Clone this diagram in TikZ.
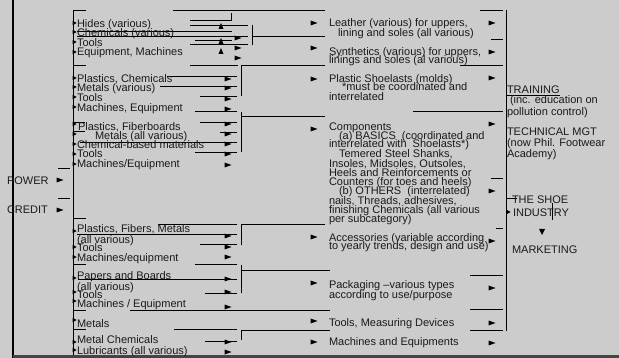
\documentclass[tikz,border=0pt]{standalone}
\usepackage{fontspec}
\setmainfont{Liberation Sans}
\definecolor{bg}{HTML}{CCCCCC}
\definecolor{ink}{HTML}{1A1A1A}
\definecolor{botline}{HTML}{444444}
\tikzset{
  ra/.pic={\fill[black] (-3.5,-2.5) -- (3.5,0) -- (-3.5,2.5) -- cycle;},
  rs/.pic={\fill[black] (-2,-2.2) -- (2.2,0) -- (-2,2.2) -- cycle;},
  ua/.pic={\fill[black] (-2.5,3) -- (0,-3) -- (2.5,3) -- cycle;},
  da/.pic={\fill[black] (-3,-3) -- (0,3) -- (3,-3) -- cycle;},
}
\begin{document}
\begin{tikzpicture}[x=1pt,y=-1pt,
  txt/.style={anchor=base west, inner sep=0pt, outer sep=0pt, yshift=-4pt,
              font=\fontsize{11}{11}\selectfont, text=ink},
  ln/.style={draw=black, line width=0.8pt}]
\fill[bg] (0,0) rectangle (619,358);
\useasboundingbox (0,0) rectangle (619,358);

% borders
\draw[line width=2.5pt, black] (13,0) -- (13,358);
\draw[line width=3pt, botline] (13,356) -- (619,356);

% left trunk and bracket tops
\draw[ln] (86,10) -- (73,10) -- (73,355);
\foreach \yy in {65,218,264,310,329} \draw[ln] (73,\yy) -- (86,\yy);
\draw[ln] (73,122) -- (85,122);
\draw[ln] (73,131) -- (85,131);

% group 1 lines
\draw[ln] (173,10) -- (325,10);
\draw[ln] (190,20) -- (231,20) -- (231,13);
\draw[ln] (190,25) -- (248,25);
\draw[ln] (77,31) -- (232,31);
\draw[ln] (77,36) -- (248,36);
\draw[ln] (252,25) -- (252,45);
\draw[ln] (252,36) -- (325,36);
\draw[ln] (195,40) -- (232,40);
\draw[ln] (190,44) -- (248,44);
\draw[ln] (190,65) -- (238,65);
\draw[ln] (241,96) -- (241,65) -- (325,65);
\foreach \yy in {26,41,51} \pic at (221,\yy) {ua};
\foreach \yy in {38,48,58} \pic at (238,\yy) {ra};

% group 2 lines
\draw[ln] (167,76) -- (237,76);
\draw[ln] (160,86) -- (237,86);
\draw[ln] (200,96) -- (237,96);
\draw[ln] (195,111) -- (237,111);
\foreach \yy in {79,88,99,109} \pic at (228,\yy) {ra};

% group 3 lines
\draw[ln] (241,152) -- (241,112);
\draw[ln] (241,116) -- (325,116);
\draw[ln] (200,122) -- (237,122);
\draw[ln] (220,132) -- (237,132);
\draw[ln] (80,142) -- (237,142);
\draw[ln] (195,152) -- (237,152);
\foreach \yy in {124,134,144,154,165} \pic at (228,\yy) {ra};

% power / credit
\draw[ln] (58,168) -- (70,168);
\draw[ln] (58,198) -- (70,198);
\pic at (60,180) {ra};
\pic at (60,210) {ra};

% group 4 lines
\draw[ln] (158,224) -- (237,224);
\draw[ln] (241,245) -- (241,224) -- (325,224);
\draw[ln] (77,234) -- (237,234);
\draw[ln] (200,244) -- (237,244);
\foreach \yy in {236,247,257} \pic at (228,\yy) {ra};

% group 5 lines
\draw[ln] (195,264) -- (237,264);
\draw[ln] (241,293) -- (241,265);
\draw[ln] (241,270) -- (330,270);
\draw[ln] (78,279) -- (237,279);
\draw[ln] (205,293) -- (237,293);
\draw[ln] (130,310) -- (330,310);
\foreach \yy in {279,292,307} \pic at (228,\yy) {ra};

% groups 6/7
\draw[ln] (174,329) -- (237,329);
\draw[ln] (241,340) -- (241,330) -- (330,330);
\draw[ln] (205,341) -- (237,341);
\foreach \yy in {342,352} \pic at (228,\yy) {ra};

% left small arrows
\foreach \yy in {23,32,42,52,78,87,97,107,124,134,144,154,164,231,247,257,278,292,301,320,342,350}
  \pic at (74.5,\yy) {rs};

% middle column arrows
\foreach \yy in {23,48,79,129,237,283,321,342} \pic at (314,\yy) {ra};
\foreach \yy in {23,52,78,124,191,241,288,323,343} \pic at (492,\yy) {ra};

% right stubs and vertical
\draw[ln] (480,10) -- (503,10);
\draw[ln] (491,39) -- (503,39);
\draw[ln] (460,65) -- (503,65);
\draw[ln] (413,111) -- (503,111);
\draw[ln] (491,178) -- (503,178);
\draw[ln] (496,228) -- (503,228);
\draw[ln] (470,275) -- (503,275);
\draw[ln] (470,309) -- (503,309);
\draw[ln] (470,330) -- (503,330);
\draw[ln] (506,10) -- (506,331);

% shoe industry marks
\draw[ln] (506,198) -- (517,198);
\draw[ln] (552,203) -- (552,220);
\pic at (508.5,212) {rs};
\pic at (542,232) {da};
\draw[ln] (507,95) -- (560,95);

% left texts
\node[txt] (l1) at (77,24) {Hides (various)};
\node[txt] (l2) at (77,33) {Chemicals (various)};
\node[txt] (l3) at (77,43) {Tools};
\node[txt] (l4) at (77,52) {Equipment, Machines};
\node[txt] (l5) at (77,79) {Plastics, Chemicals};
\node[txt] (l6) at (77,88) {Metals (various)};
\node[txt] (l7) at (77,98) {Tools};
\node[txt] (l8) at (77,108) {Machines, Equipment};
\node[txt] (l9) at (78,127) {Plastics, Fiberboards};
\node[txt] (l10) at (95,136) {Metals (all various)};
\node[txt] (l11) at (77,145) {Chemical-based materials};
\node[txt] (l12) at (77,154) {Tools};
\node[txt] (l13) at (77,164) {Machines/Equipment};
\node[txt] (pw) at (7,181) {POWER};
\node[txt] (cr) at (7,210) {CREDIT};
\node[txt] (l14) at (77,229) {Plastics, Fibers, Metals};
\node[txt] (l15) at (77,240) {(all various)};
\node[txt] (l16) at (77,248) {Tools};
\node[txt] (l17) at (77,258) {Machines/equipment};
\node[txt] (l18) at (77,276) {Papers and Boards};
\node[txt] (l19) at (77,287) {(all various)};
\node[txt] (l20) at (77,295) {Tools};
\node[txt] (l21) at (77,304) {Machines / Equipment};
\node[txt] (l22) at (77,323) {Metals};
\node[txt] (l23) at (77,340) {Metal Chemicals};
\node[txt] (l24) at (77,350) {Lubricants (all various)};

% middle texts
\node[txt] (m1) at (329,23) {Leather (various) for uppers,};
\node[txt] (m2) at (338,33) {lining and soles (all various)};
\node[txt] (m3) at (329,52) {Synthetics (various) for uppers,};
\node[txt] (m4) at (329,60) {linings and soles (al various)};
\node[txt] (m5) at (329,79) {Plastic Shoelasts (molds)};
\node[txt] (m6) at (342,87) {*must be coordinated and};
\node[txt] (m7) at (329,97) {interrelated};
\node[txt] (m8) at (329,126.5) {Components};
\node[txt] (m9) at (339,136) {(a) BASICS\ \ (coordinated and};
\node[txt] (m10) at (329,143.5) {interrelated with\ \ Shoelasts*)};
\node[txt] (m11) at (339,154) {Temered Steel Shanks,};
\node[txt] (m12) at (329,163.5) {Insoles, Midsoles, Outsoles,};
\node[txt] (m13) at (329,172.5) {Heels and Reinforcements or};
\node[txt] (m14) at (329,181.5) {Counters (for toes and heels)};
\node[txt] (m15) at (339,190.5) {(b) OTHERS\ \ (interrelated)};
\node[txt] (m16) at (329,200.5) {nails, Threads, adhesives,};
\node[txt] (m17) at (329,209.5) {finishing Chemicals (all various};
\node[txt] (m18) at (329,219) {per subcategory)};
\node[txt] (m19) at (329,238) {Accessories (variable according};
\node[txt] (m20) at (329,245.5) {to yearly trends, design and use)};
\node[txt] (m21) at (329,285) {Packaging –various types};
\node[txt] (m22) at (329,294.5) {according to use/purpose};
\node[txt] (m23) at (329,322.5) {Tools, Measuring Devices};
\node[txt] (m24) at (329,341.5) {Machines and Equipments};

% right texts
\node[txt] (r1) at (507,90) {TRAINING};
\node[txt] (r2) at (510,100) {(inc. education on};
\node[txt] (r3) at (507,112) {pollution control)};
\node[txt] (r4) at (507,132) {TECHNICAL MGT};
\node[txt] (r5) at (507,143) {(now Phil. Footwear};
\node[txt] (r6) at (507,154) {Academy)};
\node[txt] (r7) at (512,200) {THE SHOE};
\node[txt] (r8) at (513,213) {INDUSTRY};
\node[txt] (r9) at (512,250) {MARKETING};
\end{tikzpicture}
\end{document}
